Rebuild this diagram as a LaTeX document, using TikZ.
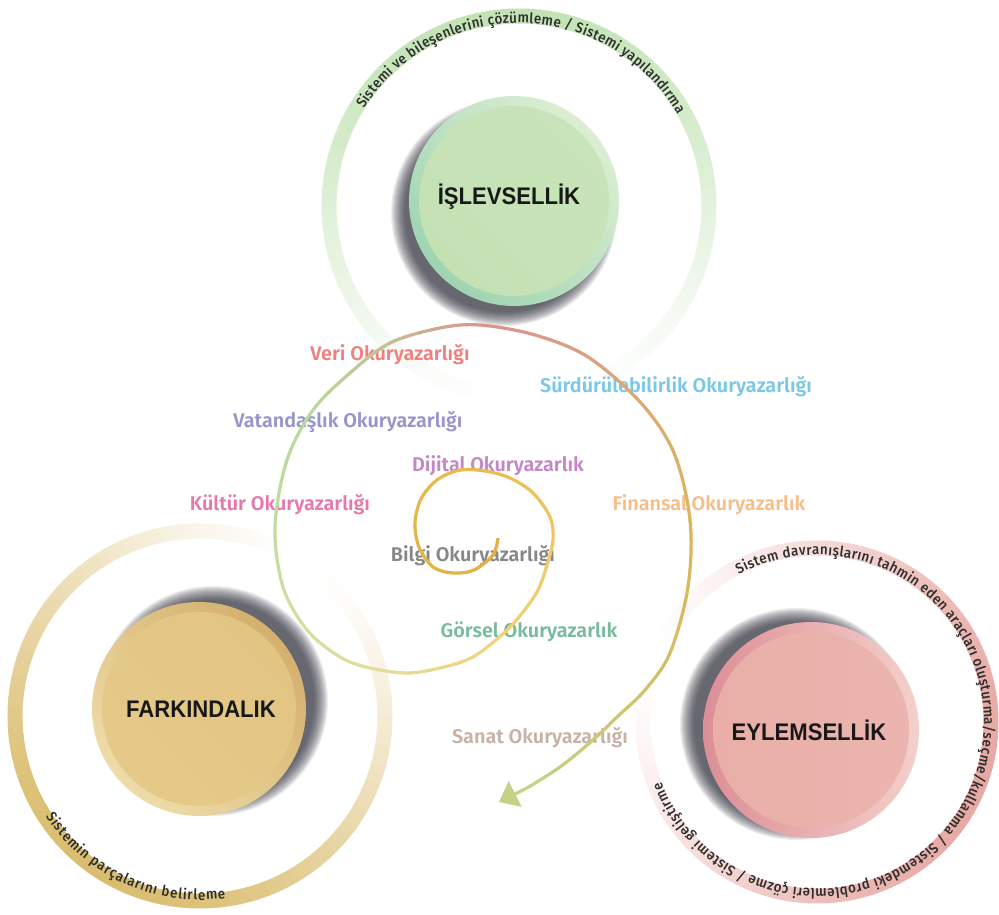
\documentclass[tikz,border=0pt]{standalone}
\usepackage{fontspec}
\usetikzlibrary{decorations.text,decorations.markings,arrows.meta}

\newfontfamily\labfont{Fira Sans}[UprightFont={* SemiBold}]
\newfontfamily\ringfont{Fira Sans}[UprightFont={* Medium}, FakeStretch=0.92]
\newfontfamily\titlefont{Liberation Sans}[UprightFont={* Bold}, FakeStretch=0.92]

% ring bands
\definecolor{topring}{RGB}{184,222,168}
\definecolor{blring}{RGB}{216,186,104}
\definecolor{brring}{RGB}{230,164,158}
\definecolor{ringtext}{RGB}{45,45,45}
\definecolor{titletext}{RGB}{24,24,24}
\definecolor{shadowc}{RGB}{45,45,58}
% discs
\definecolor{topLight}{RGB}{220,238,210}
\definecolor{topDark}{RGB}{158,212,178}
\definecolor{topFill}{RGB}{196,225,180}
\definecolor{blLight}{RGB}{238,220,168}
\definecolor{blDark}{RGB}{212,176,110}
\definecolor{blFill}{RGB}{227,197,130}
\definecolor{brLight}{RGB}{244,208,203}
\definecolor{brDark}{RGB}{220,142,150}
\definecolor{brFill}{RGB}{233,174,168}
% labels
\definecolor{veric}{RGB}{240,128,128}
\definecolor{surdc}{RGB}{122,200,230}
\definecolor{vatc}{RGB}{150,150,205}
\definecolor{dijc}{RGB}{196,134,198}
\definecolor{kultc}{RGB}{232,120,172}
\definecolor{finc}{RGB}{246,190,136}
\definecolor{bilgic}{RGB}{135,135,135}
\definecolor{gorc}{RGB}{120,188,156}
\definecolor{sanc}{RGB}{200,178,166}
% spiral colour stops
\definecolor{sp0}{HTML}{E3AF40}
\definecolor{sp1}{HTML}{E8BA4E}
\definecolor{sp2}{HTML}{EEC868}
\definecolor{sp3}{HTML}{F0D47F}
\definecolor{sp4}{HTML}{E6DC98}
\definecolor{sp5}{HTML}{CEDFA4}
\definecolor{sp6}{HTML}{BCDCA0}
\definecolor{sp7}{HTML}{B9D99C}
\definecolor{sp8}{HTML}{C4BE96}
\definecolor{sp9}{HTML}{D8958C}
\definecolor{sp10}{HTML}{DA9F82}
\definecolor{sp11}{HTML}{DBAE6C}
\definecolor{sp12}{HTML}{D9B75C}
\definecolor{sp13}{HTML}{D3C064}
\definecolor{sp14}{HTML}{C6D186}

% a band whose strength fades away from a peak angle
% #1 centre, #2 radius, #3 colour, #4 peak angle, #5 exponent, #6 max percent
\newcommand\fadering[6]{%
  \foreach \a in {0,3,...,357}{%
    \pgfmathsetmacro\pct{#6*((1.001+cos(\a+1.5-#4))/2.002)^#5}%
    \draw[line width=15pt, color=#3!\pct!white]
      (#1) ++(\a:#2) arc[start angle=\a, end angle=\a+3.4, radius=#2];
  }}

% a disc with a one-sided soft shadow, shaded rim and inner face
% #1 centre, #2 radius, #3/#4 shadow shift, #5 rim light, #6 rim dark, #7 shading angle, #8 face
\newcommand\drawdisc[8]{%
  \foreach \k in {0,...,14}{%
    \fill[shadowc, opacity=0.08] (#1) ++(#3,#4) circle[radius={#2-6+\k}];
  }
  \shade[top color=#5, bottom color=#6, shading angle=#7] (#1) circle[radius=#2];
  \shade[top color=#8!80!#5, bottom color=#8, shading angle=#7] (#1) circle[radius={#2-10}];
}

\def\spiralpath{plot[smooth,tension=0.55] coordinates {(498,376) (493,359) (474,344) (453,341) (433,347) (419,367) (415,391) (421,415) (437,434) (460,444) (485,443) (510,436) (533,421) (550,397) (553,374) (547,349) (538,324) (523,302) (505,282) (473,257) (440,246) (407,241) (370,246) (340,257) (307,284) (283,327) (275,387) (287,454) (313,504) (350,541) (390,571) (440,586) (480,589) (535,579) (588,557) (641,511) (674,461) (690,394) (688,327) (670,261) (645,224) (617,197) (593,174) (560,147) (527,126)}}

\tikzset{
  lab/.style={font=\labfont\fontsize{19.8}{23}\selectfont, inner sep=0pt},
  titlelab/.style={font=\titlefont\fontsize{24}{28}\selectfont, text=titletext, inner sep=0pt},
  ringpath/.style={decorate, decoration={text along path, text align={fit to path}, text={|\ringfont\fontsize{14.5}{17}\selectfont\color{ringtext}|#1}}},
}

\begin{document}
\begin{tikzpicture}[x=1pt,y=1pt]
\fill[white] (0,0) rectangle (999,914);
\useasboundingbox (0,0) rectangle (999,914);

% centres
\coordinate (ringT) at (519,708);
\coordinate (ringL) at (200,198);
\coordinate (ringR) at (817,192);
\coordinate (discT) at (514,713);
\coordinate (discL) at (199,205);
\coordinate (discR) at (811,184);

% outer bands
\fadering{ringT}{190}{topring}{95}{1.0}{85}
\fadering{ringL}{185}{blring}{235}{0.8}{95}
\fadering{ringR}{174}{brring}{340}{0.8}{95}

% texts on the bands
\path[ringpath={Sistemi ve bileşenlerini çözümleme / Sistemi yapılandırma}]
  (ringT) ++(148:183) arc[start angle=148, end angle=30, radius=183];
\path[ringpath={Sistemin parçalarını belirleme}]
  (ringL) ++(213:184) arc[start angle=213, end angle=278, radius=184];
\path[ringpath={Sistem davranışlarını tahmin eden araçları oluşturma/seçme/kullanma / Sistemdeki problemleri çözme / Sistemi geliştirme}]
  (ringR) ++(118:167) arc[start angle=118, end angle=-159, radius=167];

% discs
\drawdisc{discT}{105}{-10}{-12}{topLight}{topDark}{-45}{topFill}
\drawdisc{discL}{107}{14}{8}{blLight}{blDark}{135}{blFill}
\drawdisc{discR}{108}{-15}{6}{brLight}{brDark}{-90}{brFill}

\node[titlelab] (islev) at (509,717) {İŞLEVSELLİK};
\node[titlelab] (fark) at (201,205) {FARKINDALIK};
\node[titlelab] (eylem) at (809,184) {EYLEMSELLİK};

% literacy labels
\node[lab, text=veric]  (veri)   at (390,559) {Veri Okuryazarlığı};
\node[lab, text=surdc]  (surd)   at (676,527) {Sürdürülebilirlik Okuryazarlığı};
\node[lab, text=vatc]   (vatan)  at (348,492) {Vatandaşlık Okuryazarlığı};
\node[lab, text=dijc]   (dijital) at (498,448) {Dijital Okuryazarlık};
\node[lab, text=kultc]  (kultur) at (280,409) {Kültür Okuryazarlığı};
\node[lab, text=finc]   (finans) at (709,409) {Finansal Okuryazarlık};
\node[lab, text=bilgic] (bilgi)  at (473,358) {Bilgi Okuryazarlığı};
\node[lab, text=gorc]   (gorsel) at (529,282) {Görsel Okuryazarlık};
\node[lab, text=sanc]   (sanat)  at (540,176) {Sanat Okuryazarlığı};

% spiral: measure its length, then stroke it piece by piece with blended colours
\path[decorate, decoration={markings, mark=at position 0.5 with {%
  \pgfmathsetmacro\tmplen{\pgfdecoratedpathlength}\global\let\spirlen\tmplen}}] \spiralpath;
\foreach \ta/\tb/\ca/\cb in {0/0.12/sp0/sp1, 0.12/0.20/sp1/sp2, 0.20/0.27/sp2/sp3,
    0.27/0.33/sp3/sp4, 0.33/0.40/sp4/sp5, 0.40/0.46/sp5/sp6, 0.46/0.52/sp6/sp7,
    0.52/0.575/sp7/sp8, 0.575/0.63/sp8/sp9, 0.63/0.69/sp9/sp10, 0.69/0.75/sp10/sp11,
    0.75/0.82/sp11/sp12, 0.82/0.90/sp12/sp13, 0.90/1/sp13/sp14}{%
  \foreach \j in {0,...,5}{%
    \pgfmathsetmacro\segs{\spirlen*(\ta+(\tb-\ta)*\j/6)}%
    \pgfmathsetmacro\segl{\spirlen*(\tb-\ta)/6+0.8}%
    \pgfmathsetmacro\mixp{100*(\j+0.5)/6}%
    \draw[line width=3.2pt, color=\cb!\mixp!\ca,
      dash pattern=on 0pt off \segs pt on \segl pt off 16000pt] \spiralpath;
  }}

\coordinate (spiralend) at (527,126);
\coordinate (spiraltip) at (499,112);
\draw[sp14, line width=3.2pt, -{Triangle[length=18pt,width=28pt]}] (spiralend) -- (spiraltip);
\end{tikzpicture}
\end{document}
